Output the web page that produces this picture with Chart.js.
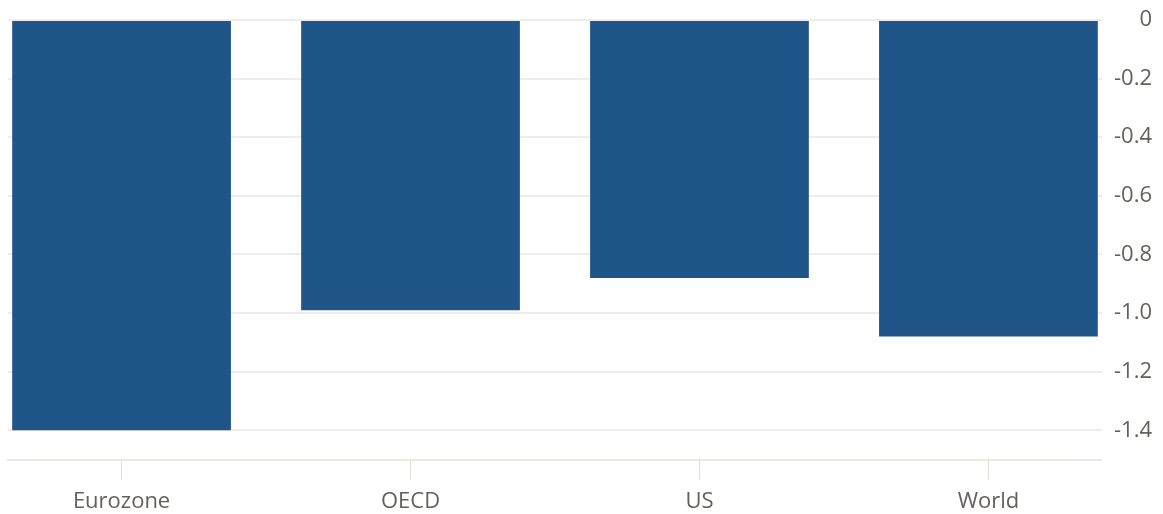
<!DOCTYPE html>
<html>
<head>
<meta charset="utf-8">
<script src="https://cdn.jsdelivr.net/npm/chart.js@4"></script>
<style>
  html, body { margin: 0; padding: 0; background: #fff; }
  #wrap { width: 1163px; height: 514px; }
</style>
</head>
<body>
<div id="wrap"><canvas id="bars"></canvas></div>
<script>
var categories = ["Eurozone", "OECD", "US", "World"];
var values = [-1.4, -0.99, -0.88, -1.08];
var yTicks = [0, -0.2, -0.4, -0.6, -0.8, -1.0, -1.2, -1.4];

var textColor = '#66605c';
var font = { family: "'Open Sans', sans-serif", size: 22 };

var barsChart = new Chart(document.getElementById('bars'), {
    type: 'bar',
    data: {
        datasets: [
            {
                data: values.map(function (v, i) { return { x: i, y: v }; }),
                backgroundColor: '#20558a',
                borderWidth: 0,
                barPercentage: 0.757,
                categoryPercentage: 1
            }
        ]
    },
    options: {
        responsive: true,
        maintainAspectRatio: false,
        animation: false,
        layout: { padding: { left: 8, right: 11, top: 20, bottom: -10 } },
        plugins: {
            legend: { display: false },
            tooltip: { enabled: false }
        },
        scales: {
            x: {
                type: 'linear',
                offset: false,
                min: -0.393,
                max: 3.393,
                afterBuildTicks: function (axis) {
                    axis.ticks = categories.map(function (c, i) { return { value: i }; });
                },
                grid: { offset: false, drawOnChartArea: false, drawTicks: true, tickLength: 20, color: '#e2deda' },
                border: { display: true, color: '#ebe7e3', width: 2 },
                ticks: {
                    color: textColor,
                    font: font,
                    padding: 9,
                    maxRotation: 0,
                    callback: function (value) { return categories[value]; }
                }
            },
            y: {
                position: 'right',
                min: -1.5,
                max: 0,
                afterBuildTicks: function (axis) {
                    axis.ticks = yTicks.map(function (v) { return { value: v }; });
                },
                grid: { color: '#f0ece9', lineWidth: 2, drawTicks: false },
                border: { display: false },
                ticks: {
                    color: textColor,
                    font: font,
                    padding: 6,
                    crossAlign: 'far',
                    callback: function (value) {
                        return value === 0 ? '0' : value.toFixed(1);
                    }
                }
            }
        }
    }
});
</script>
</body>
</html>
